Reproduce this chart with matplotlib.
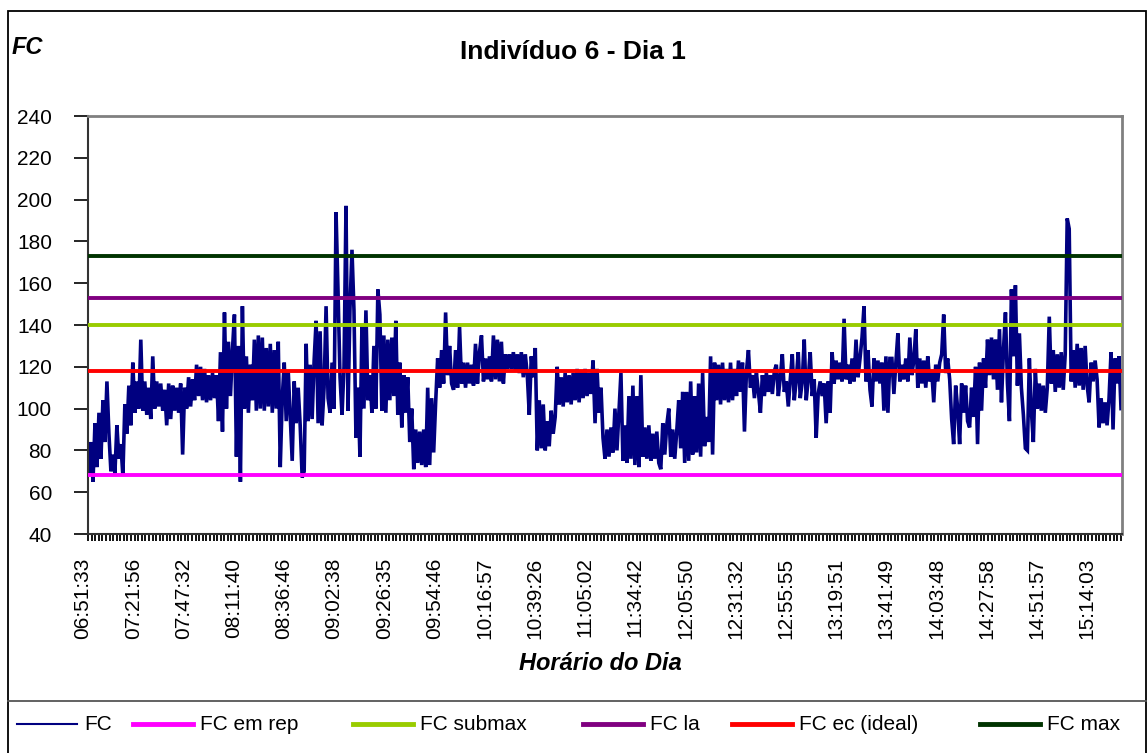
# Heart-rate (FC) trace of one subject over the day, with the reference
# heart-rate levels drawn as flat lines across the whole plot.

import numpy as np
import matplotlib.pyplot as plt
import matplotlib.transforms as mtransforms
from matplotlib.lines import Line2D
from matplotlib.patches import Rectangle

# FC samples, left to right (evenly spaced categories)
fc = [
    70, 84, 65, 93, 72, 98, 76, 104, 84, 113, 88, 70, 78, 69, 92, 76, 83, 68, 102, 88,
    111, 92, 122, 98, 113, 100, 133, 99, 113, 97, 110, 95, 125, 100, 113, 101, 112, 99, 109, 92,
    112, 95, 111, 99, 110, 98, 112, 78, 110, 100, 115, 101, 114, 104, 121, 106, 120, 104, 119, 103,
    116, 104, 117, 105, 116, 94, 127, 89, 146, 100, 132, 106, 128, 145, 77, 130, 65, 149, 100, 125,
    98, 121, 104, 133, 99, 135, 100, 134, 99, 129, 101, 131, 98, 128, 100, 132, 72, 105, 122, 94,
    118, 96, 75, 113, 93, 110, 92, 67, 70, 131, 94, 121, 95, 123, 142, 93, 137, 92, 110, 149,
    105, 98, 122, 100,
    194, 156, 115, 97, 120, 197, 99, 148, 176, 147, 86, 110, 77, 140, 100, 147, 104, 116, 98, 130,
    100, 157, 145, 99, 135, 98, 133, 104, 134, 106, 142, 97, 122, 91, 116, 98, 115, 84, 100, 71,
    90, 74, 89, 73, 90, 72, 110, 73, 105, 79, 103, 124, 110, 128, 112, 146, 116, 130, 112, 109,
    128, 110, 139, 112, 122, 110, 122, 112, 121, 111, 131, 112, 127, 135, 113, 124, 114, 125, 113, 135,
    114, 133, 113, 132, 112, 126, 119, 126, 119, 127, 118, 126, 117, 127, 115, 126, 116, 97, 125, 115,
    129, 80, 104, 81, 102, 80, 94, 82, 99, 88, 96, 120, 102, 115, 101, 117, 103, 116, 102, 117,
    104, 119, 103, 118, 105, 119, 106, 117, 107, 123, 93, 119, 98,
    110, 86, 76, 90, 77, 91, 79, 100, 80, 98, 117, 75, 92, 74, 106, 76, 111, 73, 106, 72,
    116, 77, 91, 76, 92, 75, 88, 76, 89, 74, 71, 93, 78, 92, 100, 77, 90, 76, 89, 104,
    81, 108, 74, 108, 75, 113, 78, 106, 79, 112, 77, 117, 82, 96, 84, 125, 78, 122, 104, 121,
    102, 122, 104, 119, 103, 122, 104, 119, 106, 123, 108, 122, 89, 118, 128, 110, 116, 105, 117, 108,
    98, 116, 106, 117, 108, 116, 107, 118, 121, 106, 115, 126, 108, 113, 101, 114, 126, 104, 114, 127,
    105, 113, 133, 104, 114, 127, 106, 114, 86, 107, 113, 106, 112, 93, 113, 98, 127, 112, 123, 114,
    122, 113, 143, 114, 121, 112, 124, 113, 133, 115,
    124, 134, 149, 113, 128, 109, 101, 124, 113, 123, 112, 122, 99, 125, 98, 124, 124, 107, 122, 136,
    113, 121, 114, 124, 113, 134, 116, 123, 138, 110, 124, 112, 123, 110, 125, 113, 118, 103, 121, 113,
    122, 126, 145, 117, 124, 114, 95, 83, 111, 100, 83, 112, 98, 111, 94, 91, 110, 96, 120, 83,
    122, 99, 124, 110, 133, 116, 134, 114, 133, 109, 138, 103, 128, 146, 112, 94, 157, 125, 159, 111,
    136, 110, 97, 81, 80, 124, 99, 84, 119, 100, 112, 99, 111, 98, 110, 144, 112, 128, 108, 126,
    110, 127, 109, 126, 191, 186, 113, 128, 110, 131, 111, 129, 109, 130, 111, 103, 122, 113, 123, 114,
    91, 105, 93, 103, 92, 105, 127, 90, 124, 112, 125, 100,
]

# reference heart-rate levels
fc_em_rep = 68
fc_submax = 140
fc_la = 153
fc_ec_ideal = 118
fc_max = 173

time_labels = [
    "06:51:33", "07:21:56", "07:47:32", "08:11:40", "08:36:46", "09:02:38", "09:26:35",
    "09:54:46", "10:16:57", "10:39:26", "11:05:02", "11:34:42", "12:05:50", "12:31:32",
    "12:55:55", "13:19:51", "13:41:49", "14:03:48", "14:27:58", "14:51:57", "15:14:03",
]

plt.rcParams['font.family'] = ['Liberation Sans', 'DejaVu Sans']

W, H = 1148, 753
fig = plt.figure(figsize=(W / 100, H / 100), dpi=100)
ax = fig.add_axes([88 / W, (H - 534) / H, 1034 / W, 418 / H])

n = len(fc)
x = np.arange(n)
ax.plot(x, fc, color='#000080', lw=2.6, zorder=2, solid_joinstyle='miter')

refs = [
    (fc_em_rep, '#ff00ff', 'FC em rep'),
    (fc_submax, '#99cc00', 'FC submax'),
    (fc_la, '#800080', 'FC la'),
    (fc_ec_ideal, '#ff0000', 'FC ec (ideal)'),
    (fc_max, '#003300', 'FC max'),
]
for val, col, _ in refs:
    ax.axhline(val, color=col, lw=2.8, zorder=3)

ax.set_ylim(40, 240)
ax.set_yticks(range(40, 241, 20))
ax.set_xlim(-0.5, n - 0.5)

# one label every ~50 px, thin ticks in between like the spreadsheet axis
step = n / (1034 / 50.2)
major = -0.5 + step * np.arange(len(time_labels))
ax.set_xticks(major)
ax.set_xticklabels(time_labels, rotation=90, fontsize=15)
ax.set_xticks(np.arange(-0.5, n, step / 14), minor=True)
ax.tick_params(axis='x', which='both', direction='out', length=5, width=1.3, pad=12)
ax.tick_params(axis='y', direction='out', length=10, width=1.2, pad=16, labelsize=15)

shift = mtransforms.ScaledTranslation(-5 / 100, 0, fig.dpi_scale_trans)
for lab in ax.get_xticklabels():
    lab.set_transform(lab.get_transform() + shift)

for side in ['left', 'bottom']:
    ax.spines[side].set_color('#333333')
    ax.spines[side].set_linewidth(1.5)
for side in ['top', 'right']:
    ax.spines[side].set_color('#808080')
    ax.spines[side].set_linewidth(2)

# texts around the plot
fig.text(12 / W, 1 - 47 / H, 'FC', fontsize=17, fontweight='bold', style='italic',
         ha='left', va='center')
fig.text(573 / W, 1 - 52 / H, 'Indivíduo 6 - Dia 1', fontsize=19, fontweight='bold',
         ha='center', va='center')
fig.text(600 / W, 1 - 664 / H, 'Horário do Dia', fontsize=17, fontweight='bold',
         style='italic', ha='center', va='center')

# outer frame and legend strip
fig.add_artist(Rectangle((8 / W, -0.01), (1146 - 8) / W, (H - 11) / H + 0.01,
                         transform=fig.transFigure, fill=False, ec='black', lw=1.3))
fig.add_artist(Line2D([8 / W, 1146 / W], [1 - 701 / H] * 2, transform=fig.transFigure,
                      color='#555555', lw=1.3))

legend_items = [('FC', '#000080', 1.5)] + [(lab, col, 3.5) for _, col, lab in refs]
legend_x = [17, 133, 353, 583, 732, 980]
ly = 1 - 724 / H
for (lab, col, lw), x0 in zip(legend_items, legend_x):
    fig.add_artist(Line2D([x0 / W, (x0 + 60) / W], [ly, ly], transform=fig.transFigure,
                          color=col, lw=lw))
    fig.text((x0 + 67) / W, ly, lab, fontsize=15, ha='left', va='center')

fig.savefig('out.png', dpi=100)
